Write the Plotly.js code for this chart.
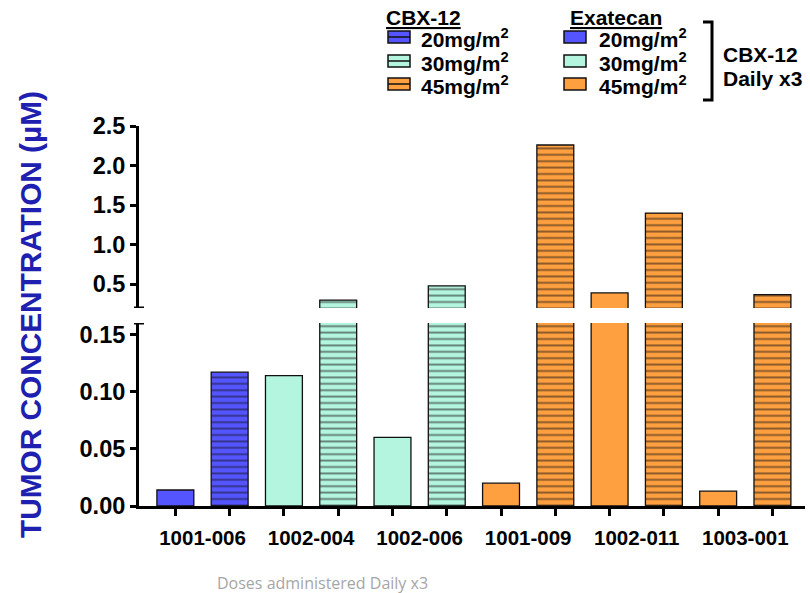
<!DOCTYPE html>
<html>
<head>
<meta charset="utf-8">
<script src="https://cdn.plot.ly/plotly-3.0.1.min.js"></script>
<style>html,body{margin:0;padding:0;background:#fff;}#chart{width:810px;height:593px;}</style>
</head>
<body>
<div id="chart"></div>
<script>
// ---- data ----
const categories = ['1001-006', '1002-004', '1002-006', '1001-009', '1002-011', '1003-001'];
const doses = [20, 30, 30, 45, 45, 45];
const exatecanValues = [0.014, 0.114, 0.060, 0.020, 0.39, 0.013];
const cbx12Values = [0.117, 0.30, 0.48, 2.26, 1.40, 0.37];
const doseLevels = [20, 30, 45];
const doseLabels = ['20mg/m<sup>2</sup>', '30mg/m<sup>2</sup>', '45mg/m<sup>2</sup>'];
const lowerTicks = [0, 0.05, 0.10, 0.15];
const upperTicks = [0.5, 1.0, 1.5, 2.0, 2.5];
const yTitle = 'TUMOR CONCENTRATION (µM)';
const xNote = 'Doses administered Daily x3';
const drugNames = ['CBX-12', 'Exatecan'];
const bracketLines = ['CBX-12', 'Daily x3'];

// ---- styles ----
const doseColors = {20: '#5555FF', 30: '#B4F5DF', 45: '#FFA040'};
const FONT = 'Arial, "Liberation Sans", Helvetica, sans-serif';
const W = 810, H = 593;
const M = {l: 139, r: 5, t: 126, b: 87};
const plotW = W - M.l - M.r, plotH = H - M.t - M.b;
const px = x => (x - M.l) / plotW;
const py = y => (H - M.b - y) / plotH;

const lowerTopPx = 323, upperBottomPx = 308;
const lowerDomain = [0, py(lowerTopPx)];
const upperDomain = [py(upperBottomPx), 1];

const traces = [];
[['exatecan', exatecanValues, 0], ['cbx', cbx12Values, 1]].forEach(([drug, vals, off]) => {
  doseLevels.forEach(d => {
    const xs = [], ys = [];
    categories.forEach((c, i) => {
      if (doses[i] === d) { xs.push(2 * i + off); ys.push(vals[i]); }
    });
    ['y', 'y2'].forEach(ax => {
      const marker = {color: doseColors[d], line: {color: '#111', width: 1.3}};
      if (drug === 'cbx') {
        marker.pattern = {shape: '-', fgcolor: '#111', bgcolor: doseColors[d], size: 6.4, solidity: 0.3, fillmode: 'overlay'};
      }
      traces.push({
        type: 'bar', x: xs, y: ys, yaxis: ax, xaxis: 'x', width: 0.68,
        marker: marker, showlegend: false, hoverinfo: 'x+y'
      });
    });
  });
});

const shapes = [];
const annotations = [];

// axis-break caps
shapes.push({type: 'line', xref: 'paper', yref: 'y2', xsizemode: 'pixel', xanchor: 0, x0: -5, x1: 5, y0: 0.2, y1: 0.2, line: {color: '#000', width: 3}});
shapes.push({type: 'line', xref: 'paper', yref: 'y', xsizemode: 'pixel', xanchor: 0, x0: -5, x1: 5, y0: 0.16, y1: 0.16, line: {color: '#000', width: 3}});

// legend (drawn)
const LF = 21;
const rowsY = [38, 62, 85];
const cols = [{sw: 388, tx: 419, head: 384, striped: true}, {sw: 564, tx: 597, head: 568, striped: false}];
cols.forEach((c, ci) => {
  annotations.push({xref: 'paper', yref: 'paper', x: px(c.head), y: py(17), xanchor: 'left', yanchor: 'middle',
    text: '<u>' + drugNames[ci] + '</u>', showarrow: false, font: {family: FONT, size: LF, color: '#000', weight: 'bold'}});
  doseLevels.forEach((d, k) => {
    const yc = rowsY[k] - 1;
    shapes.push({type: 'rect', xref: 'paper', yref: 'paper', x0: px(c.sw), x1: px(c.sw + 22), y0: py(yc - 6), y1: py(yc + 6),
      fillcolor: doseColors[d], line: {color: '#111', width: 1.5}});
    if (c.striped) {
      shapes.push({type: 'line', xref: 'paper', yref: 'paper', x0: px(c.sw), x1: px(c.sw + 22), y0: py(yc), y1: py(yc), line: {color: '#111', width: 1.5}});
    }
    annotations.push({xref: 'paper', yref: 'paper', x: px(c.tx), y: py(rowsY[k]), xanchor: 'left', yanchor: 'middle',
      text: doseLabels[k], showarrow: false, font: {family: FONT, size: LF, color: '#000', weight: 'bold'}});
  });
});
// bracket
shapes.push({type: 'path', xref: 'paper', yref: 'paper',
  path: 'M' + px(703) + ',' + py(22) + ' L' + px(712) + ',' + py(22) + ' L' + px(712) + ',' + py(100) + ' L' + px(703) + ',' + py(100),
  line: {color: '#000', width: 3}});
bracketLines.forEach((t, k) => {
  annotations.push({xref: 'paper', yref: 'paper', x: px(721), y: py(54 + 24 * k), xanchor: 'left', yanchor: 'middle',
    text: t, showarrow: false, font: {family: FONT, size: LF, color: '#000', weight: 'bold'}});
});

// y title
annotations.push({xref: 'paper', yref: 'paper', x: px(30), y: py(315), xanchor: 'center', yanchor: 'middle', textangle: -90,
  text: yTitle, showarrow: false, font: {family: FONT, size: 29.8, color: '#2020B0', weight: 'bold'}});
// bottom note
annotations.push({xref: 'paper', yref: 'paper', x: px(322), y: py(583), xanchor: 'center', yanchor: 'middle',
  text: xNote, showarrow: false, font: {family: '"Open Sans", "Noto Sans", sans-serif', size: 16, color: '#a6a6a6'}});

const pairCenters = categories.map((c, i) => 2 * i + 0.5);
const barPositions = categories.flatMap((c, i) => [2 * i, 2 * i + 1]);

const axisCommon = {
  showline: true, linecolor: '#000', linewidth: 3, ticks: 'outside', ticklen: 6, tickwidth: 3, tickcolor: '#000',
  showgrid: false, zeroline: false, tickfont: {family: FONT, size: 23.5, color: '#000', weight: 'bold'}, fixedrange: true
};

const layout = {
  width: W, height: H, margin: M, paper_bgcolor: '#fff', plot_bgcolor: '#fff',
  barmode: 'overlay', showlegend: false,
  xaxis: {
    range: [-0.67, 11.6], showline: true, linecolor: '#000', linewidth: 3, showgrid: false, zeroline: false,
    tickmode: 'array', tickvals: pairCenters, ticktext: categories, ticks: '', ticklabelstandoff: 11,
    tickfont: {family: FONT, size: 20.5, color: '#000', weight: 'bold'},
    minor: {tickmode: 'array', tickvals: barPositions, ticks: 'outside', ticklen: 7, tickwidth: 3, tickcolor: '#000', showgrid: false},
    fixedrange: true
  },
  yaxis: Object.assign({}, axisCommon, {domain: lowerDomain, range: [0, 0.16], tickmode: 'array', tickvals: lowerTicks, tickformat: '.2f', anchor: 'x'}),
  yaxis2: Object.assign({}, axisCommon, {domain: upperDomain, range: [0.2, 2.5], tickmode: 'array', tickvals: upperTicks, tickformat: '.1f', anchor: 'x'}),
  shapes: shapes, annotations: annotations
};

Plotly.newPlot('chart', traces, layout, {displayModeBar: false, staticPlot: true});
</script>
</body>
</html>
